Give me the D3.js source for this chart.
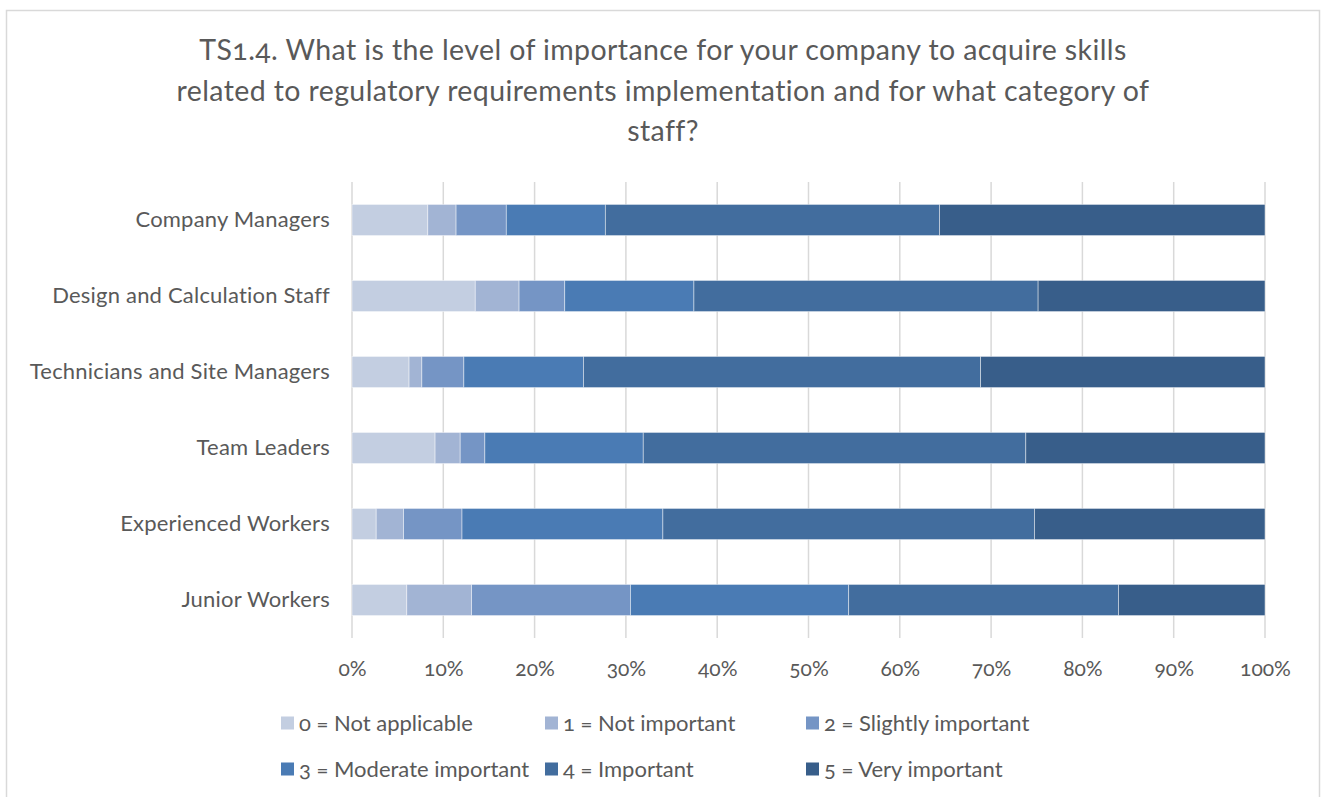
<!DOCTYPE html>
<html>
<head>
<meta charset="utf-8">
<script src="https://cdn.jsdelivr.net/npm/d3@7"></script>
<style>
  html, body { margin: 0; padding: 0; background: #fff; }
  svg { display: block; font-family: Lato, "Open Sans", sans-serif; font-feature-settings: "onum"; }
</style>
</head>
<body>
<svg id="chart" width="1321" height="797"></svg>
<script>
// Staff categories, top to bottom
const categories = [
  "Company Managers",
  "Design and Calculation Staff",
  "Technicians and Site Managers",
  "Team Leaders",
  "Experienced Workers",
  "Junior Workers"
];

// Share of answers (%) per importance level, one value per category
const notApplicable      = [8.3, 13.5, 6.25, 9.1, 2.65, 6.0];
const notImportant       = [3.1, 4.8, 1.4, 2.75, 3.0, 7.1];
const slightlyImportant  = [5.5, 5.0, 4.6, 2.7, 6.4, 17.4];
const moderateImportant  = [10.85, 14.15, 13.1, 17.35, 22.0, 23.9];
const important          = [36.6, 37.7, 43.5, 41.9, 40.7, 29.55];
const veryImportant      = [35.65, 24.85, 31.15, 26.2, 25.25, 16.05];

const seriesNames = [
  "0 = Not applicable",
  "1 = Not important",
  "2 = Slightly important",
  "3 = Moderate important",
  "4 = Important",
  "5 = Very important"
];
const seriesValues = [notApplicable, notImportant, slightlyImportant, moderateImportant, important, veryImportant];
const seriesColors = ["#c3cee1", "#a2b4d4", "#7595c5", "#4a7bb4", "#426d9e", "#385e8a"];

const tickValues = [0, 10, 20, 30, 40, 50, 60, 70, 80, 90, 100];

const titleLines = [
  "TS1.4. What is the level of importance for your company to acquire skills",
  "related to regulatory requirements implementation and for what category of",
  "staff?"
];

const svg = d3.select("#chart");
const textColor = "#595959";

// Outer frame
svg.append("rect")
  .attr("x", 6.5).attr("y", 10.5)
  .attr("width", 1313).attr("height", 800)
  .attr("fill", "#fff")
  .attr("stroke", "#d9d9d9").attr("stroke-width", 1.5);

// Title
svg.append("text")
  .attr("text-anchor", "middle")
  .attr("fill", textColor)
  .attr("font-size", 28.5)
  .attr("letter-spacing", 0.4)
  .selectAll("tspan")
  .data(titleLines)
  .join("tspan")
  .attr("x", 663)
  .attr("y", (d, i) => 60 + i * 40.5)
  .text(d => d);

// Plot area
const plot = { left: 352, right: 1265, top: 182, bottom: 638 };

const x = d3.scaleLinear().domain([0, 100]).range([plot.left, plot.right]);
const y = d3.scaleBand().domain(categories).range([plot.top, plot.bottom]).paddingInner(0.59).paddingOuter(0.295);

// Vertical gridlines
svg.append("g")
  .selectAll("line")
  .data(tickValues)
  .join("line")
  .attr("x1", d => x(d)).attr("x2", d => x(d))
  .attr("y1", plot.top).attr("y2", plot.bottom)
  .attr("stroke", "#d9d9d9").attr("stroke-width", 1.5);

// Stacked bars
const rows = categories.map((c, i) => {
  const r = { category: c };
  seriesNames.forEach((s, k) => { r[s] = seriesValues[k][i]; });
  return r;
});
const stacked = d3.stack().keys(seriesNames)(rows);

svg.append("g")
  .selectAll("g")
  .data(stacked)
  .join("g")
  .attr("fill", (d, k) => seriesColors[k])
  .selectAll("rect")
  .data(d => d)
  .join("rect")
  .attr("x", d => x(d[0]))
  .attr("width", d => x(d[1]) - x(d[0]))
  .attr("y", d => y(d.data.category))
  .attr("height", y.bandwidth())
  .attr("stroke", "#ffffff").attr("stroke-opacity", 0.55).attr("stroke-width", 0.8);

// Category axis labels
const yAxis = d3.axisLeft(y).tickSize(0).tickPadding(22);
const gy = svg.append("g").attr("transform", `translate(${plot.left},0)`).call(yAxis);
gy.select(".domain").remove();
gy.selectAll("text")
  .attr("fill", textColor)
  .attr("font-size", 22)
  .attr("letter-spacing", 0.2)
  .attr("font-family", "Lato, 'Open Sans', sans-serif");

// Percentage axis labels
const xAxis = d3.axisBottom(x).tickValues(tickValues).tickSize(0).tickPadding(23).tickFormat(d => d + "%");
const gx = svg.append("g").attr("transform", `translate(0,${plot.bottom})`).call(xAxis);
gx.select(".domain").remove();
gx.selectAll("text")
  .attr("fill", textColor)
  .attr("font-size", 21)
  .attr("font-family", "Lato, 'Open Sans', sans-serif");

// Legend
const legendCols = [281, 545, 806];
const legendRows = [723, 769];
const legend = svg.append("g")
  .selectAll("g")
  .data(seriesNames)
  .join("g")
  .attr("transform", (d, i) => `translate(${legendCols[i % 3]},${legendRows[Math.floor(i / 3)]})`);
legend.append("rect")
  .attr("x", 0).attr("y", -6.5)
  .attr("width", 13).attr("height", 13)
  .attr("fill", (d, i) => seriesColors[i]);
legend.append("text")
  .attr("x", 18).attr("y", 0)
  .attr("dy", "0.35em")
  .attr("fill", textColor)
  .attr("font-size", 22)
  .text(d => d);
</script>
</body>
</html>
